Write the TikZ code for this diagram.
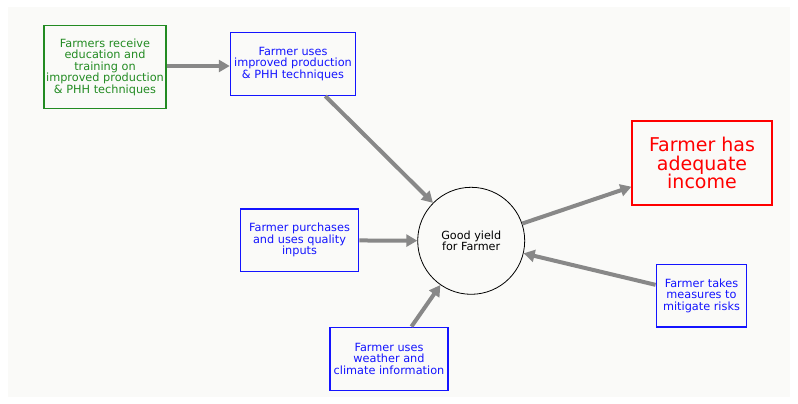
\documentclass[tikz,border=0pt]{standalone}
\usepackage{fontspec}
\setmainfont{DejaVu Sans}
\usetikzlibrary{arrows.meta}
\definecolor{panel}{RGB}{250,250,248}
\definecolor{linkgray}{RGB}{136,136,136}
\definecolor{trainGreen}{RGB}{34,139,34}
\definecolor{actBlue}{RGB}{20,20,255}
\definecolor{goalRed}{RGB}{255,0,0}
\tikzset{
  basebox/.style={draw, line width=1.5pt, align=center, inner sep=0pt,
    font=\fontsize{11.3}{11.5}\selectfont},
  trainbox/.style={basebox, draw=trainGreen, text=trainGreen},
  actbox/.style={basebox, draw=actBlue, text=actBlue},
  goalbox/.style={draw=goalRed, line width=1.8pt, text=goalRed, align=center,
    inner sep=0pt, font=\fontsize{19}{18.7}\selectfont},
  yieldnode/.style={draw=black, line width=0.8pt, circle, align=center,
    inner sep=0pt, minimum size=107pt, font=\fontsize{11.2}{11.7}\selectfont},
  link/.style={draw=linkgray, line width=4pt,
    -{Triangle[length=11pt,width=12pt]}}
}
\begin{document}
\begin{tikzpicture}[x=1pt,y=-1pt]
  \useasboundingbox (0,0) rectangle (798,404);
  \fill[panel] (8,7) rectangle (790,397);

  \node[trainbox, minimum width=122pt, minimum height=83pt] (train) at (105,67)
    {Farmers receive\\education and\\training on\\improved production\\\& PHH techniques};
  \node[actbox, minimum width=125pt, minimum height=62.6pt] (tech) at (293,64)
    {Farmer uses\\improved production\\\& PHH techniques};
  \node[actbox, minimum width=118.4pt, minimum height=62.7pt] (inputs) at (299.5,240.3)
    {Farmer purchases\\and uses quality\\inputs};
  \node[actbox, minimum width=118pt, minimum height=63pt] (weather) at (389,358.8)
    {Farmer uses\\weather and\\climate information};
  \node[actbox, minimum width=90.4pt, minimum height=62.3pt] (risk) at (701.5,295.8)
    {Farmer takes\\measures to\\mitigate risks};
  \node[goalbox, minimum width=139.4pt, minimum height=83.4pt] (income) at (702,163)
    {Farmer has\\adequate\\income};
  \node[yieldnode] (yield) at (471.2,240.8) {Good yield\\for Farmer};

  \draw[link] (train.east |- 0,66) -- (tech.west |- 0,66);
  \draw[link] (tech) -- (yield);
  \draw[link] (inputs) -- (yield);
  \draw[link] (weather) -- (yield);
  \draw[link] (yield) -- (income);
  \draw[link] (risk) -- (yield);
\end{tikzpicture}
\end{document}
